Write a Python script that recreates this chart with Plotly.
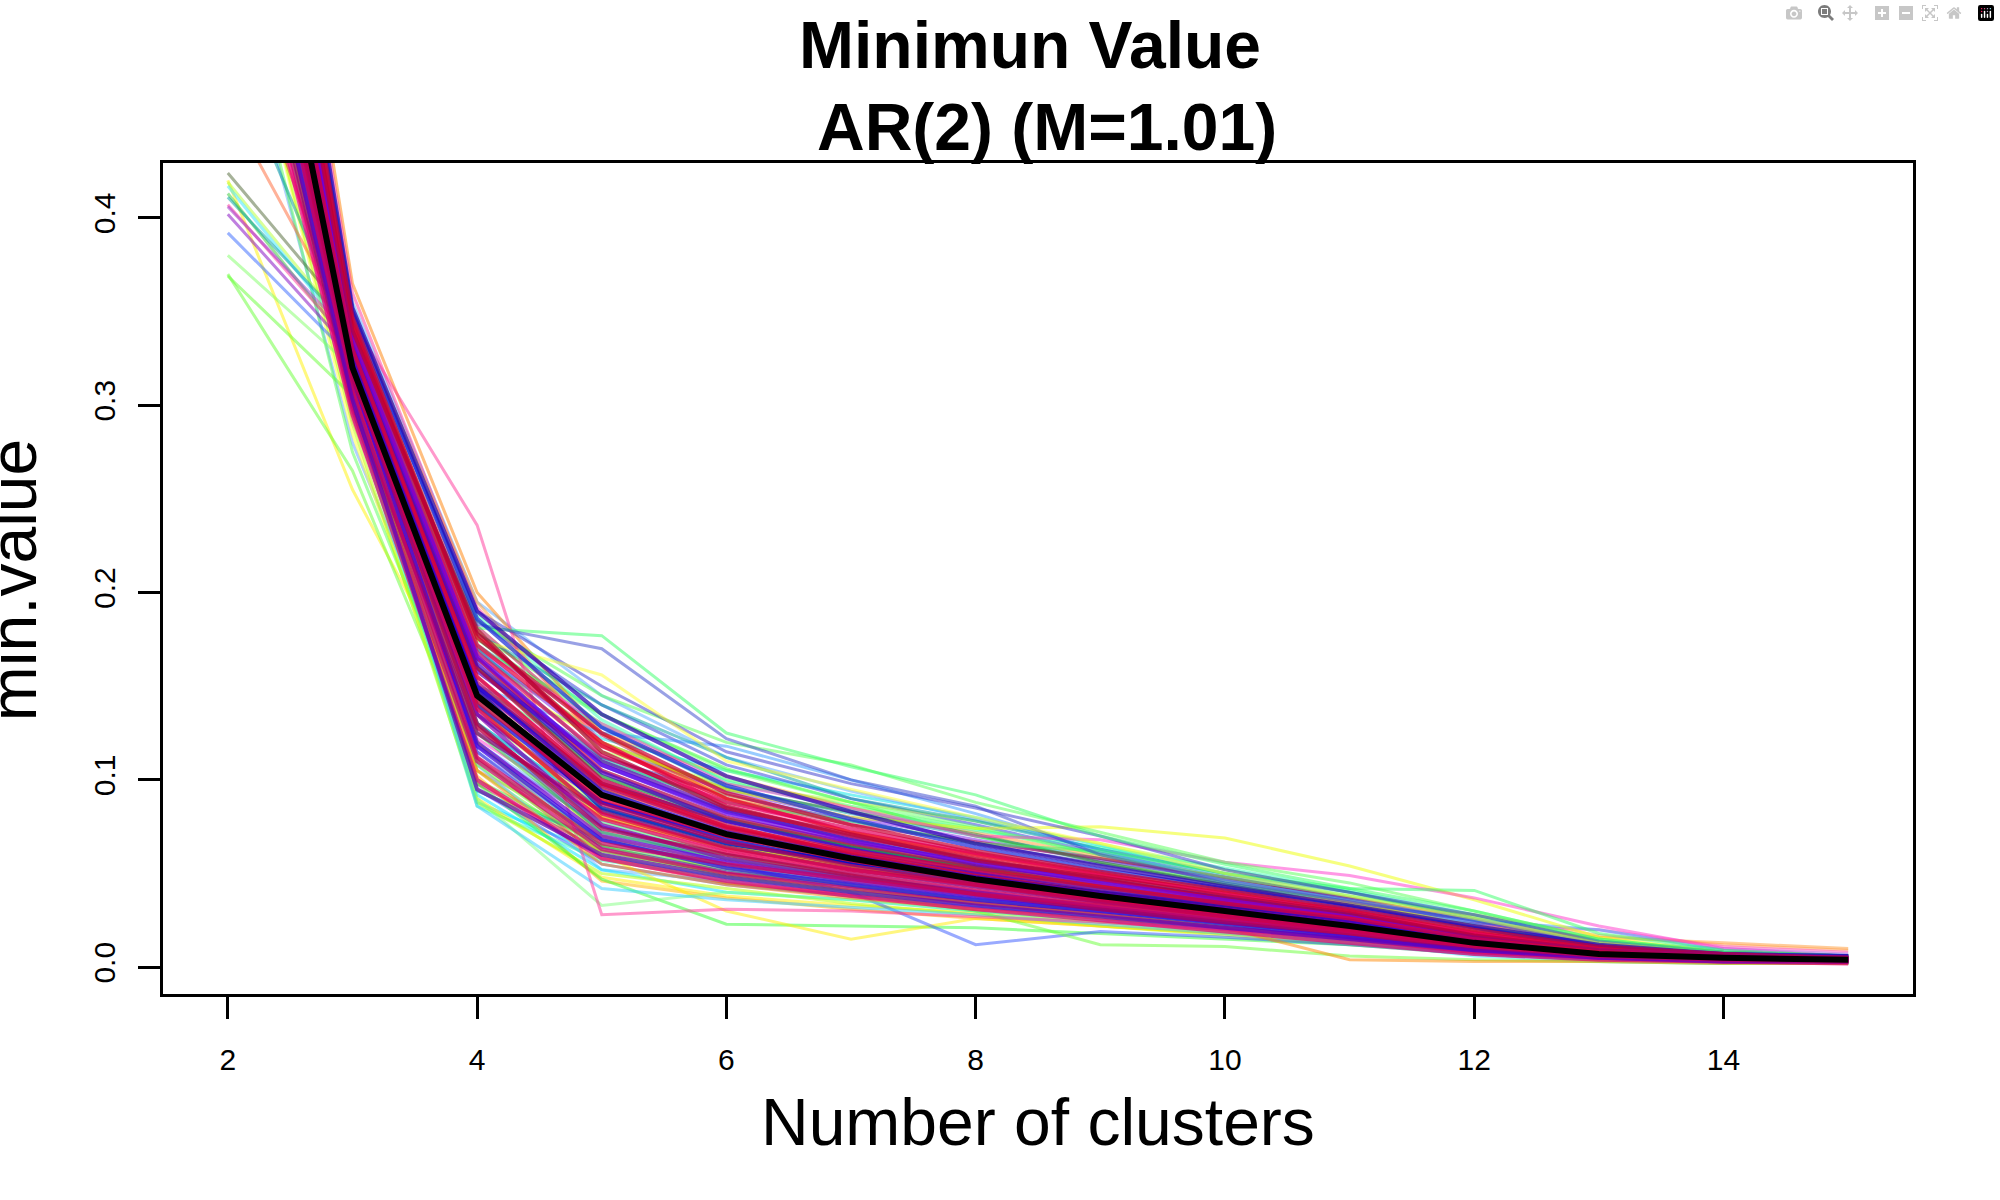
import plotly.graph_objects as go

# Number of clusters (x axis)
clusters = [2, 3, 4, 5, 6, 7, 8, 9, 10, 11, 12, 13, 14, 15]
x_ticks = [2, 4, 6, 8, 10, 12, 14]
y_ticks = [0.0, 0.1, 0.2, 0.3, 0.4]
y_tick_labels = ["0.0", "0.1", "0.2", "0.3", "0.4"]

# ---- outlying runs ----
out_pink   = [0.60, 0.345, 0.236, 0.028, 0.031, 0.030, 0.027, 0.024, 0.020, 0.015, 0.010, 0.006, 0.004, 0.003]
out_green  = [0.62, 0.330, 0.181, 0.177, 0.125, 0.107, 0.092, 0.070, 0.055, 0.042, 0.030, 0.015, 0.008, 0.006]
out_slate  = [0.66, 0.335, 0.183, 0.170, 0.122, 0.100, 0.086, 0.060, 0.045, 0.035, 0.025, 0.012, 0.007, 0.005]
out_yellow = [0.58, 0.300, 0.175, 0.156, 0.110, 0.095, 0.080, 0.066, 0.050, 0.038, 0.026, 0.013, 0.007, 0.005]
out_yel_k3 = [0.42, 0.255, 0.130, 0.070, 0.050, 0.045, 0.035, 0.030, 0.022, 0.015, 0.010, 0.006, 0.004, 0.003]
out_grn_k3 = [0.37, 0.265, 0.105, 0.060, 0.045, 0.038, 0.032, 0.027, 0.021, 0.015, 0.009, 0.005, 0.003, 0.003]

# ---- spread runs ----
mid_01 = [0.60, 0.300, 0.092, 0.052, 0.040, 0.036, 0.030, 0.025, 0.020, 0.014, 0.008, 0.004, 0.003, 0.003]
mid_02 = [0.63, 0.320, 0.170, 0.135, 0.105, 0.088, 0.075, 0.060, 0.048, 0.038, 0.028, 0.014, 0.008, 0.006]
mid_03 = [0.70, 0.350, 0.195, 0.118, 0.092, 0.072, 0.060, 0.050, 0.042, 0.034, 0.022, 0.016, 0.013, 0.010]
mid_04 = [0.66, 0.330, 0.178, 0.140, 0.112, 0.090, 0.078, 0.063, 0.050, 0.040, 0.026, 0.013, 0.007, 0.005]
mid_05 = [0.55, 0.290, 0.088, 0.050, 0.042, 0.034, 0.028, 0.022, 0.017, 0.012, 0.007, 0.004, 0.003, 0.002]
mid_06 = [0.59, 0.300, 0.098, 0.047, 0.023, 0.022, 0.021, 0.018, 0.015, 0.012, 0.008, 0.005, 0.003, 0.003]
mid_07 = [0.68, 0.340, 0.150, 0.125, 0.118, 0.100, 0.082, 0.062, 0.046, 0.036, 0.025, 0.020, 0.009, 0.006]
mid_08 = [0.61, 0.310, 0.120, 0.060, 0.030, 0.015, 0.026, 0.022, 0.018, 0.013, 0.008, 0.005, 0.004, 0.003]
mid_09 = [0.64, 0.322, 0.130, 0.075, 0.055, 0.040, 0.012, 0.019, 0.016, 0.012, 0.007, 0.004, 0.003, 0.003]
mid_10 = [0.66, 0.330, 0.160, 0.120, 0.095, 0.080, 0.074, 0.075, 0.069, 0.054, 0.036, 0.016, 0.008, 0.005]
mid_11 = [0.69, 0.340, 0.170, 0.130, 0.098, 0.085, 0.070, 0.068, 0.056, 0.049, 0.037, 0.022, 0.010, 0.006]
mid_12 = [0.62, 0.320, 0.150, 0.110, 0.088, 0.078, 0.066, 0.062, 0.050, 0.042, 0.041, 0.018, 0.009, 0.006]
mid_13 = [0.60, 0.325, 0.185, 0.145, 0.120, 0.108, 0.088, 0.072, 0.056, 0.045, 0.030, 0.015, 0.008, 0.006]
mid_14 = [0.72, 0.345, 0.190, 0.150, 0.115, 0.098, 0.085, 0.070, 0.052, 0.040, 0.028, 0.014, 0.008, 0.006]
mid_15 = [0.57, 0.300, 0.090, 0.033, 0.040, 0.036, 0.030, 0.024, 0.019, 0.014, 0.008, 0.005, 0.003, 0.003]
mid_16 = [0.63, 0.312, 0.086, 0.042, 0.036, 0.032, 0.028, 0.023, 0.018, 0.013, 0.007, 0.004, 0.003, 0.002]
mid_17 = [0.65, 0.320, 0.120, 0.065, 0.048, 0.040, 0.030, 0.012, 0.011, 0.006, 0.004, 0.003, 0.002, 0.002]
mid_18 = [0.58, 0.305, 0.105, 0.055, 0.044, 0.037, 0.031, 0.026, 0.021, 0.004, 0.003, 0.003, 0.002, 0.002]

# lower part of the band at k=4..5
ext_01 = [0.60, 0.300, 0.088, 0.060, 0.047, 0.040, 0.033, 0.027, 0.021, 0.015, 0.009, 0.005, 0.003, 0.003]
ext_02 = [0.62, 0.310, 0.095, 0.055, 0.044, 0.038, 0.032, 0.026, 0.020, 0.014, 0.008, 0.004, 0.003, 0.002]
ext_03 = [0.58, 0.295, 0.100, 0.065, 0.052, 0.043, 0.035, 0.029, 0.022, 0.016, 0.009, 0.005, 0.004, 0.003]
ext_04 = [0.65, 0.318, 0.105, 0.070, 0.055, 0.045, 0.037, 0.030, 0.024, 0.017, 0.010, 0.005, 0.004, 0.003]
ext_05 = [0.63, 0.312, 0.090, 0.048, 0.038, 0.033, 0.029, 0.024, 0.019, 0.014, 0.008, 0.004, 0.003, 0.002]
ext_06 = [0.61, 0.305, 0.112, 0.058, 0.045, 0.039, 0.034, 0.028, 0.022, 0.016, 0.010, 0.006, 0.004, 0.003]
ext_07 = [0.66, 0.322, 0.118, 0.075, 0.060, 0.050, 0.041, 0.034, 0.027, 0.020, 0.012, 0.006, 0.004, 0.003]
ext_08 = [0.59, 0.302, 0.094, 0.068, 0.054, 0.044, 0.036, 0.029, 0.023, 0.017, 0.010, 0.005, 0.003, 0.003]
ext_09 = [0.64, 0.316, 0.108, 0.052, 0.046, 0.041, 0.035, 0.029, 0.023, 0.017, 0.010, 0.005, 0.004, 0.003]
ext_10 = [0.57, 0.292, 0.122, 0.080, 0.062, 0.050, 0.040, 0.032, 0.025, 0.018, 0.011, 0.006, 0.004, 0.003]
ext_11 = [0.62, 0.308, 0.098, 0.062, 0.050, 0.041, 0.035, 0.030, 0.024, 0.018, 0.011, 0.006, 0.004, 0.003]
ext_12 = [0.60, 0.304, 0.102, 0.046, 0.037, 0.031, 0.026, 0.022, 0.018, 0.013, 0.008, 0.004, 0.003, 0.002]
ext_13 = [0.67, 0.325, 0.128, 0.072, 0.057, 0.047, 0.038, 0.031, 0.025, 0.019, 0.011, 0.006, 0.004, 0.003]
ext_14 = [0.63, 0.314, 0.115, 0.064, 0.051, 0.043, 0.036, 0.029, 0.023, 0.016, 0.009, 0.005, 0.003, 0.003]
ext_15 = [0.58, 0.298, 0.086, 0.057, 0.048, 0.041, 0.034, 0.028, 0.022, 0.016, 0.010, 0.005, 0.004, 0.003]
# upper part of the band at k=5..9
ext_16 = [0.70, 0.345, 0.175, 0.130, 0.100, 0.086, 0.074, 0.060, 0.047, 0.036, 0.024, 0.012, 0.007, 0.005]
ext_17 = [0.68, 0.338, 0.168, 0.122, 0.105, 0.092, 0.080, 0.065, 0.050, 0.038, 0.026, 0.013, 0.007, 0.005]
ext_18 = [0.72, 0.350, 0.185, 0.140, 0.108, 0.090, 0.076, 0.061, 0.048, 0.037, 0.025, 0.012, 0.007, 0.006]
ext_19 = [0.66, 0.334, 0.172, 0.128, 0.096, 0.082, 0.070, 0.058, 0.046, 0.035, 0.023, 0.011, 0.006, 0.005]
ext_20 = [0.69, 0.342, 0.180, 0.115, 0.098, 0.088, 0.078, 0.066, 0.052, 0.040, 0.027, 0.014, 0.008, 0.006]
ext_21 = [0.74, 0.355, 0.195, 0.145, 0.112, 0.094, 0.079, 0.063, 0.049, 0.037, 0.024, 0.012, 0.007, 0.005]
ext_22 = [0.65, 0.330, 0.165, 0.125, 0.102, 0.085, 0.072, 0.059, 0.046, 0.035, 0.022, 0.011, 0.006, 0.005]
ext_23 = [0.71, 0.346, 0.178, 0.135, 0.106, 0.088, 0.070, 0.056, 0.045, 0.034, 0.022, 0.011, 0.006, 0.005]
ext_24 = [0.67, 0.336, 0.170, 0.118, 0.094, 0.080, 0.068, 0.057, 0.047, 0.036, 0.024, 0.012, 0.007, 0.005]
ext_25 = [0.73, 0.352, 0.188, 0.132, 0.099, 0.084, 0.073, 0.064, 0.053, 0.041, 0.028, 0.014, 0.008, 0.006]
ext_26 = [0.64, 0.326, 0.160, 0.112, 0.092, 0.078, 0.066, 0.055, 0.044, 0.033, 0.021, 0.010, 0.006, 0.005]
ext_27 = [0.70, 0.344, 0.182, 0.124, 0.090, 0.076, 0.067, 0.058, 0.048, 0.037, 0.025, 0.013, 0.007, 0.005]
ext_28 = [0.68, 0.340, 0.176, 0.120, 0.095, 0.083, 0.071, 0.056, 0.044, 0.033, 0.021, 0.010, 0.006, 0.005]
# around the mean
ext_29 = [0.65, 0.324, 0.150, 0.098, 0.078, 0.064, 0.053, 0.043, 0.034, 0.025, 0.015, 0.008, 0.005, 0.004]
ext_30 = [0.62, 0.316, 0.135, 0.088, 0.070, 0.058, 0.047, 0.038, 0.030, 0.022, 0.013, 0.007, 0.005, 0.004]
ext_31 = [0.69, 0.334, 0.160, 0.102, 0.079, 0.065, 0.053, 0.043, 0.034, 0.026, 0.016, 0.008, 0.005, 0.004]
ext_32 = [0.60, 0.306, 0.130, 0.084, 0.066, 0.055, 0.045, 0.037, 0.029, 0.021, 0.012, 0.006, 0.004, 0.003]
ext_33 = [0.66, 0.328, 0.145, 0.092, 0.072, 0.060, 0.050, 0.041, 0.033, 0.024, 0.014, 0.007, 0.005, 0.004]
ext_34 = [0.63, 0.320, 0.140, 0.080, 0.064, 0.054, 0.045, 0.037, 0.029, 0.022, 0.013, 0.007, 0.005, 0.004]
ext_35 = [0.71, 0.340, 0.165, 0.108, 0.083, 0.069, 0.057, 0.047, 0.037, 0.028, 0.017, 0.009, 0.006, 0.005]
# spread at k=3
ext_36 = [0.78, 0.365, 0.200, 0.125, 0.090, 0.072, 0.058, 0.047, 0.038, 0.028, 0.017, 0.009, 0.006, 0.005]
ext_37 = [0.53, 0.280, 0.120, 0.075, 0.058, 0.048, 0.039, 0.032, 0.025, 0.018, 0.011, 0.006, 0.004, 0.003]
ext_38 = [0.55, 0.285, 0.095, 0.060, 0.049, 0.041, 0.034, 0.028, 0.022, 0.016, 0.009, 0.005, 0.003, 0.003]
ext_39 = [0.76, 0.360, 0.192, 0.120, 0.088, 0.072, 0.060, 0.049, 0.039, 0.029, 0.018, 0.009, 0.006, 0.005]
ext_40 = [0.54, 0.275, 0.110, 0.068, 0.053, 0.044, 0.036, 0.030, 0.024, 0.017, 0.010, 0.005, 0.004, 0.003]
# spread in the tail
ext_41 = [0.66, 0.330, 0.150, 0.095, 0.074, 0.062, 0.053, 0.046, 0.040, 0.035, 0.028, 0.017, 0.012, 0.009]
ext_42 = [0.64, 0.322, 0.140, 0.088, 0.068, 0.056, 0.046, 0.038, 0.032, 0.028, 0.025, 0.013, 0.010, 0.007]
ext_43 = [0.67, 0.332, 0.155, 0.100, 0.078, 0.064, 0.052, 0.042, 0.036, 0.032, 0.022, 0.020, 0.011, 0.008]
ext_44 = [0.61, 0.310, 0.125, 0.078, 0.060, 0.050, 0.040, 0.032, 0.024, 0.014, 0.006, 0.003, 0.002, 0.002]

# ---- runs starting low at k=2 (visible at the left edge) ----
low_01 = [0.424, 0.345, 0.150, 0.095, 0.070, 0.058, 0.046, 0.037, 0.029, 0.021, 0.013, 0.007, 0.005, 0.004]
low_02 = [0.419, 0.338, 0.135, 0.085, 0.066, 0.054, 0.044, 0.036, 0.028, 0.020, 0.012, 0.006, 0.004, 0.003]
low_03 = [0.417, 0.335, 0.160, 0.105, 0.080, 0.066, 0.054, 0.044, 0.035, 0.026, 0.016, 0.008, 0.005, 0.004]
low_04 = [0.413, 0.330, 0.125, 0.072, 0.058, 0.048, 0.040, 0.032, 0.025, 0.018, 0.011, 0.006, 0.004, 0.003]
low_05 = [0.411, 0.340, 0.170, 0.112, 0.086, 0.070, 0.058, 0.047, 0.037, 0.028, 0.017, 0.009, 0.006, 0.004]
low_06 = [0.407, 0.332, 0.145, 0.090, 0.070, 0.057, 0.047, 0.038, 0.030, 0.022, 0.013, 0.007, 0.005, 0.004]
low_07 = [0.406, 0.336, 0.155, 0.098, 0.075, 0.061, 0.050, 0.040, 0.032, 0.024, 0.014, 0.008, 0.005, 0.004]
low_08 = [0.402, 0.328, 0.138, 0.082, 0.064, 0.052, 0.043, 0.035, 0.027, 0.020, 0.012, 0.006, 0.004, 0.003]
low_09 = [0.392, 0.325, 0.115, 0.068, 0.054, 0.045, 0.037, 0.030, 0.023, 0.017, 0.010, 0.005, 0.004, 0.003]
low_10 = [0.380, 0.320, 0.128, 0.077, 0.060, 0.049, 0.040, 0.033, 0.026, 0.019, 0.011, 0.006, 0.004, 0.003]
low_11 = [0.369, 0.305, 0.108, 0.062, 0.049, 0.041, 0.034, 0.028, 0.022, 0.016, 0.009, 0.005, 0.003, 0.003]
high_01 = [0.46, 0.338, 0.150, 0.093, 0.072, 0.058, 0.048, 0.039, 0.031, 0.022, 0.013, 0.007, 0.005, 0.004]
high_02 = [0.49, 0.332, 0.142, 0.088, 0.068, 0.056, 0.046, 0.037, 0.029, 0.021, 0.012, 0.007, 0.005, 0.004]
high_03 = [0.52, 0.328, 0.148, 0.096, 0.074, 0.060, 0.049, 0.040, 0.031, 0.023, 0.014, 0.007, 0.005, 0.004]

# ---- core runs (dense band) ----
core_01 = [0.68, 0.335, 0.165, 0.105, 0.080, 0.066, 0.054, 0.044, 0.035, 0.026, 0.016, 0.009, 0.006, 0.005]
core_02 = [0.63, 0.318, 0.140, 0.088, 0.068, 0.055, 0.045, 0.036, 0.028, 0.020, 0.012, 0.007, 0.005, 0.004]
core_03 = [0.71, 0.342, 0.178, 0.118, 0.090, 0.072, 0.060, 0.049, 0.040, 0.030, 0.019, 0.010, 0.007, 0.005]
core_04 = [0.59, 0.305, 0.120, 0.070, 0.056, 0.046, 0.038, 0.031, 0.024, 0.017, 0.010, 0.005, 0.004, 0.003]
core_05 = [0.66, 0.325, 0.152, 0.097, 0.074, 0.061, 0.050, 0.040, 0.032, 0.024, 0.014, 0.008, 0.005, 0.004]
core_06 = [0.74, 0.350, 0.186, 0.128, 0.097, 0.079, 0.064, 0.052, 0.042, 0.032, 0.021, 0.011, 0.007, 0.006]
core_07 = [0.61, 0.310, 0.128, 0.079, 0.061, 0.050, 0.041, 0.033, 0.026, 0.018, 0.011, 0.006, 0.004, 0.003]
core_08 = [0.69, 0.330, 0.158, 0.110, 0.084, 0.068, 0.055, 0.046, 0.037, 0.028, 0.017, 0.009, 0.006, 0.005]
core_09 = [0.57, 0.298, 0.110, 0.063, 0.050, 0.042, 0.034, 0.028, 0.021, 0.015, 0.008, 0.005, 0.003, 0.003]
core_10 = [0.65, 0.322, 0.148, 0.085, 0.066, 0.056, 0.048, 0.040, 0.033, 0.025, 0.015, 0.008, 0.005, 0.004]
core_11 = [0.72, 0.345, 0.172, 0.120, 0.086, 0.070, 0.058, 0.047, 0.036, 0.027, 0.018, 0.010, 0.006, 0.005]
core_12 = [0.60, 0.312, 0.135, 0.076, 0.058, 0.048, 0.040, 0.032, 0.025, 0.019, 0.011, 0.006, 0.004, 0.003]
core_13 = [0.67, 0.328, 0.160, 0.100, 0.076, 0.060, 0.049, 0.039, 0.031, 0.023, 0.013, 0.007, 0.005, 0.004]
core_14 = [0.63, 0.315, 0.118, 0.068, 0.053, 0.044, 0.036, 0.030, 0.023, 0.016, 0.009, 0.005, 0.004, 0.003]
core_15 = [0.70, 0.338, 0.168, 0.113, 0.088, 0.074, 0.061, 0.050, 0.039, 0.030, 0.018, 0.010, 0.006, 0.005]
core_16 = [0.58, 0.300, 0.125, 0.083, 0.064, 0.052, 0.043, 0.035, 0.028, 0.021, 0.012, 0.006, 0.004, 0.003]
core_17 = [0.76, 0.352, 0.190, 0.135, 0.102, 0.083, 0.066, 0.054, 0.043, 0.033, 0.022, 0.012, 0.007, 0.006]
core_18 = [0.64, 0.320, 0.142, 0.090, 0.070, 0.057, 0.046, 0.037, 0.029, 0.021, 0.012, 0.007, 0.005, 0.004]
core_19 = [0.62, 0.316, 0.130, 0.074, 0.060, 0.049, 0.039, 0.031, 0.024, 0.018, 0.010, 0.006, 0.004, 0.003]
core_20 = [0.68, 0.332, 0.162, 0.104, 0.078, 0.063, 0.051, 0.042, 0.034, 0.025, 0.015, 0.008, 0.005, 0.004]
core_21 = [0.56, 0.295, 0.100, 0.058, 0.046, 0.038, 0.031, 0.025, 0.019, 0.013, 0.007, 0.004, 0.003, 0.002]
core_22 = [0.73, 0.347, 0.176, 0.125, 0.093, 0.076, 0.062, 0.051, 0.041, 0.031, 0.020, 0.011, 0.007, 0.005]
core_23 = [0.66, 0.326, 0.150, 0.094, 0.072, 0.059, 0.048, 0.039, 0.031, 0.023, 0.014, 0.007, 0.005, 0.004]
core_24 = [0.61, 0.308, 0.112, 0.066, 0.055, 0.047, 0.039, 0.033, 0.026, 0.019, 0.011, 0.006, 0.004, 0.003]
core_25 = [0.69, 0.336, 0.166, 0.108, 0.082, 0.067, 0.056, 0.045, 0.036, 0.027, 0.016, 0.009, 0.006, 0.005]
core_26 = [0.64, 0.318, 0.138, 0.082, 0.063, 0.052, 0.044, 0.036, 0.027, 0.020, 0.012, 0.006, 0.004, 0.004]
core_27 = [0.71, 0.340, 0.180, 0.115, 0.085, 0.071, 0.057, 0.048, 0.038, 0.029, 0.017, 0.009, 0.006, 0.005]
core_28 = [0.59, 0.303, 0.095, 0.060, 0.048, 0.040, 0.033, 0.027, 0.021, 0.015, 0.009, 0.005, 0.003, 0.003]
core_29 = [0.67, 0.330, 0.155, 0.098, 0.075, 0.062, 0.052, 0.043, 0.034, 0.026, 0.015, 0.008, 0.005, 0.004]
core_30 = [0.62, 0.314, 0.145, 0.087, 0.067, 0.054, 0.044, 0.035, 0.027, 0.020, 0.011, 0.006, 0.004, 0.003]

# ---- mean curve (black) ----
mean_curve = [0.65, 0.320, 0.145, 0.092, 0.071, 0.058, 0.047, 0.038, 0.030, 0.022, 0.013, 0.007, 0.005, 0.004]

# (series, colour) in drawing order
spread = [
    (out_yel_k3, "#FFF200"), (out_grn_k3, "#66FF33"),
    (ext_01, "#00E5FF"), (ext_02, "#3355FF"), (ext_03, "#33E633"), (ext_04, "#FF9933"),
    (ext_05, "#FFEE00"), (ext_06, "#FF3333"), (ext_07, "#6A1AD9"), (ext_08, "#00B3A0"),
    (ext_09, "#66B3FF"), (ext_10, "#FF33CC"), (ext_11, "#C0003A"), (ext_12, "#FFB300"),
    (ext_13, "#2233DD"), (ext_14, "#4400B3"), (ext_15, "#33FFAA"),
    (ext_16, "#33FF55"), (ext_17, "#00E6E6"), (ext_18, "#2A3AD9"), (ext_19, "#00A0A0"),
    (ext_20, "#B3FF33"), (ext_21, "#55AAFF"), (ext_22, "#FF9933"), (ext_23, "#33FF33"),
    (ext_24, "#7A1AE6"), (ext_25, "#33FFB3"), (ext_26, "#1A1A99"), (ext_27, "#B3003A"),
    (ext_28, "#338033"),
    (ext_36, "#FF8000"), (ext_37, "#66A3FF"), (ext_38, "#FFFF33"), (ext_39, "#FF3399"),
    (ext_40, "#55FF55"),
    (ext_41, "#FFA366"), (ext_42, "#66B3FF"), (ext_43, "#FF55CC"), (ext_44, "#33E6FF"),
    (mid_01, "#00E5FF"), (mid_02, "#66FF66"), (mid_03, "#FF9933"), (mid_04, "#00A0A0"),
    (mid_05, "#B3FF00"), (mid_06, "#33FF33"), (mid_07, "#3399FF"), (mid_08, "#FFEE00"),
    (mid_09, "#3355FF"), (mid_10, "#EEFF00"), (mid_11, "#FF33CC"), (mid_12, "#33FF66"),
    (mid_13, "#55FF55"), (mid_14, "#3333CC"), (mid_15, "#80FF80"), (mid_16, "#33CCFF"),
    (mid_17, "#66FF33"), (mid_18, "#FF8800"),
    (out_pink, "#FF3399"), (out_green, "#33FF66"), (out_slate, "#3344CC"), (out_yellow, "#FFFF33"),
    (low_01, "#4D6633"), (low_02, "#B3FF33"), (low_03, "#33E6FF"), (low_04, "#33CC33"),
    (low_05, "#00A0A0"), (low_06, "#FF3399"), (low_07, "#9933CC"), (low_08, "#8000C0"),
    (low_09, "#3366FF"), (low_10, "#80FF66"), (low_11, "#66FF33"),
    (high_01, "#FF6633"), (high_02, "#009999"), (high_03, "#E60033"),
]
core = [
    (ext_29, "#1A1AB3"), (ext_30, "#6A00B3"), (ext_31, "#1A9933"), (ext_32, "#00B3CC"),
    (ext_33, "#FF6600"), (ext_34, "#E6CC00"), (ext_35, "#2244FF"),
    (core_01, "#D0004A"), (core_02, "#2200D9"), (core_03, "#E6002E"), (core_04, "#6A00CC"),
    (core_05, "#B3005C"), (core_06, "#1A2AD9"), (core_07, "#E6004D"), (core_08, "#5500B3"),
    (core_09, "#CC006B"), (core_10, "#0000C0"), (core_11, "#E60038"), (core_12, "#8000B3"),
    (core_13, "#C00045"), (core_14, "#3A00E6"), (core_15, "#E6005C"), (core_16, "#99006E"),
    (core_17, "#2A00B3"), (core_18, "#E6002E"), (core_19, "#B3004A"), (core_20, "#4A00CC"),
    (core_21, "#E60073"), (core_22, "#CC0033"), (core_23, "#2400E6"), (core_24, "#CC005C"),
    (core_25, "#6E00E6"), (core_26, "#E60045"), (core_27, "#B30038"), (core_28, "#5C00C0"),
    (core_29, "#E6002E"), (core_30, "#C00052"),
]


def rgba(hex_color, alpha):
    h = hex_color.lstrip("#")
    r, g, b = int(h[0:2], 16), int(h[2:4], 16), int(h[4:6], 16)
    return f"rgba({r},{g},{b},{alpha})"


fig = go.Figure()
for ys, col in spread:
    fig.add_trace(go.Scatter(x=clusters, y=ys, mode="lines",
                             line=dict(color=rgba(col, 0.5), width=3),
                             hoverinfo="skip", showlegend=False))
for ys, col in core:
    fig.add_trace(go.Scatter(x=clusters, y=ys, mode="lines",
                             line=dict(color=rgba(col, 0.7), width=4),
                             hoverinfo="skip", showlegend=False))
fig.add_trace(go.Scatter(x=clusters, y=mean_curve, mode="lines",
                         line=dict(color="black", width=6),
                         hoverinfo="skip", showlegend=False))

FONT = "Liberation Sans, Arial, Helvetica, sans-serif"
axis_common = dict(showline=True, mirror=True, linecolor="black", linewidth=2.5,
                   ticks="outside", ticklen=22, tickwidth=2.5, tickcolor="black",
                   showgrid=False, zeroline=False,
                   tickfont=dict(family=FONT, size=30, color="black"))

fig.update_layout(
    width=2000, height=1200,
    paper_bgcolor="white", plot_bgcolor="white",
    margin=dict(l=163, r=87, t=163, b=206),
    xaxis=dict(range=[1.48, 15.52], tickmode="array", tickvals=x_ticks,
               ticklabelstandoff=15, **axis_common),
    yaxis=dict(range=[-0.0143, 0.4293], tickmode="array", tickvals=y_ticks,
               ticktext=y_tick_labels, tickangle=-90, ticklabelstandoff=11,
               **axis_common),
    annotations=[
        dict(text="<b>Minimun Value</b>", xref="paper", yref="paper", x=0.4954, y=1.142,
             xanchor="center", yanchor="middle", showarrow=False,
             font=dict(family=FONT, size=66, color="black")),
        dict(text="<b>AR(2) (M=1.01)</b>", xref="paper", yref="paper", x=0.5051, y=1.0433,
             xanchor="center", yanchor="middle", showarrow=False,
             font=dict(family=FONT, size=66, color="black")),
        dict(text="Number of clusters", xref="paper", yref="paper", x=0.5, y=-0.154,
             xanchor="center", yanchor="middle", showarrow=False,
             font=dict(family=FONT, size=66, color="black")),
        dict(text="min.value", xref="paper", yref="paper", x=-0.0857, y=0.498,
             xanchor="center", yanchor="middle", showarrow=False, textangle=-90,
             font=dict(family=FONT, size=66, color="black")),
    ],
)

fig.write_html("out.html", post_script="document.body.style.margin='0';")
